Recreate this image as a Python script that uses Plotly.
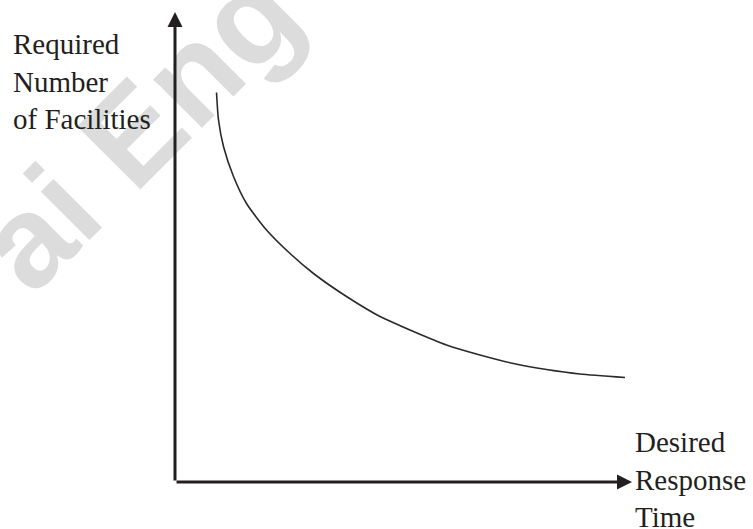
import plotly.graph_objects as go

# Desired response time (arbitrary units) vs required number of facilities
response_time = [0.83, 0.87, 0.97, 1.17, 1.43, 1.83, 2.30, 2.77, 3.43, 4.10,
                 4.77, 5.43, 6.10, 6.77, 7.43, 8.10, 9.00]
facilities = [7.79, 7.24, 6.71, 6.11, 5.57, 5.04, 4.57, 4.17, 3.71, 3.31,
              3.01, 2.74, 2.54, 2.37, 2.25, 2.16, 2.09]

# Axis extents (arrow tips)
x_axis_end = 9.14
y_axis_end = 9.40

ink = "#231f20"
serif = "Liberation Serif"

fig = go.Figure()
fig.add_trace(go.Scatter(
    x=response_time, y=facilities, mode="lines",
    line=dict(color="#2a2a2a", width=1.6, shape="spline", smoothing=0.6),
    hoverinfo="skip", showlegend=False,
))

annotations = [
    # faint diagonal watermark
    dict(text="<b>ai Eng</b>", x=138 / 753, y=1 - 128 / 529, xref="paper", yref="paper",
         xanchor="center", yanchor="middle",
         showarrow=False, textangle=-45,
         font=dict(family="Liberation Sans", size=130, color="#dcdcdc")),
    # y axis arrow
    dict(x=0, y=y_axis_end, ax=0, ay=0, xref="x", yref="y", axref="x", ayref="y",
         showarrow=True, arrowhead=2, arrowsize=1.0, arrowwidth=3, arrowcolor=ink, text=""),
    # x axis arrow
    dict(x=x_axis_end, y=0, ax=0, ay=0, xref="x", yref="y", axref="x", ayref="y",
         showarrow=True, arrowhead=2, arrowsize=1.0, arrowwidth=3, arrowcolor=ink, text=""),
    # axis titles
    dict(text="Required<br>Number<br>of Facilities", x=11 / 753, y=1 - 26 / 529,
         xref="paper", yref="paper", xanchor="left", yanchor="top", align="left",
         showarrow=False, font=dict(family=serif, size=29, color=ink)),
    dict(text="Desired<br>Response<br>Time", x=633 / 753, y=1 - 424 / 529,
         xref="paper", yref="paper", xanchor="left", yanchor="top", align="left",
         showarrow=False, font=dict(family=serif, size=29, color=ink)),
]

fig.update_layout(
    width=753, height=529,
    margin=dict(l=0, r=0, t=0, b=0),
    paper_bgcolor="white", plot_bgcolor="white",
    xaxis=dict(range=[-175 / 50, 578 / 50], visible=False, fixedrange=True),
    yaxis=dict(range=[-47 / 50, 482 / 50], visible=False, fixedrange=True),
    annotations=annotations,
    showlegend=False,
)

fig.write_html("out.html")
